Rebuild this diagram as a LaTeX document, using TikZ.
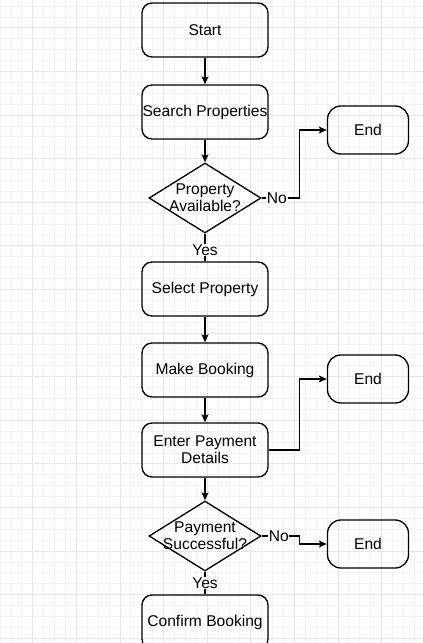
\documentclass[tikz,border=0pt]{standalone}
\usepackage{fontspec}
\setmainfont{Liberation Sans}
\usetikzlibrary{shapes.geometric,arrows.meta}
\definecolor{gridminor}{RGB}{243,243,243}
\definecolor{gridmajor}{RGB}{231,231,231}

\begin{document}
\begin{tikzpicture}[x=0.75pt,y=-0.75pt,
    font=\fontsize{11.7}{13}\selectfont,
    box/.style={draw,line width=1pt,rounded corners=7.5pt,inner xsep=0pt,
      minimum width=94.5pt,minimum height=40.5pt,align=center},
    endbox/.style={draw,line width=1pt,rounded corners=10pt,
      minimum width=60.75pt,minimum height=36pt},
    dec/.style={draw,line width=1pt,diamond,inner sep=0pt,
      minimum width=84pt,minimum height=52.5pt},
    arr/.style={line width=1pt,-{Stealth[length=6pt,width=5.2pt,inset=1.3pt]}},
    lnk/.style={line width=1pt},
    lbl/.style={fill=white,inner sep=0.5pt}]
  \clip (0,0) rectangle (423,643);
  % grid
  \foreach \k in {0,...,39}
    \draw[gridminor,line width=0.6pt] ({10.9*\k},0) -- ({10.9*\k},643);
  \foreach \k in {-1,...,59}
    \draw[gridminor,line width=0.6pt] (0,{6+10.9*\k}) -- (423,{6+10.9*\k});
  \foreach \k in {3,7,...,39}
    \draw[gridmajor,line width=0.6pt] ({10.9*\k},0) -- ({10.9*\k},643);
  \foreach \k in {2,6,...,58}
    \draw[gridmajor,line width=0.6pt] (0,{6+10.9*\k}) -- (423,{6+10.9*\k});

  % main column
  \node[box] (start) at (205,30) {Start};
  \node[box] (search) at (205,112) {Search Properties};
  \node[dec,label={[align=center]center:{Property\\Available?}}] (avail) at (205,198) {};
  \node[box] (select) at (205,289) {Select Property};
  \node[box] (book) at (205,370) {Make Booking};
  \node[box] (pay) at (205,450) {Enter Payment\\Details};
  \node[dec,label={[align=center]center:{Payment\\Successful?}}] (paid) at (205,536) {};
  \node[box] (confirm) at (205,622) {Confirm Booking};

  % exits
  \node[endbox] (end1) at (368,130) {End};
  \node[endbox] (end2) at (368,379) {End};
  \node[endbox] (end3) at (368,544) {End};

  \draw[arr] (start) -- (search);
  \draw[arr] (search) -- (avail);
  \draw[lnk] (avail) -- node[lbl,pos=0.58]{Yes} (select);
  \draw[arr] (select) -- (book);
  \draw[arr] (book) -- (pay);
  \draw[arr] (pay) -- (paid);
  \draw[lnk] (paid) -- node[lbl,pos=0.5]{Yes} (confirm);
  \draw[arr] (avail.east) -- node[lbl,pos=0.4]{No} ++(38,0) |- (end1.west);
  \draw[arr] (pay.east) -- ++(31,0) |- (end2.west);
  \draw[arr] (paid.east) -- node[lbl,pos=0.45]{No} ++(38,0) |- (end3.west);
\end{tikzpicture}
\end{document}
